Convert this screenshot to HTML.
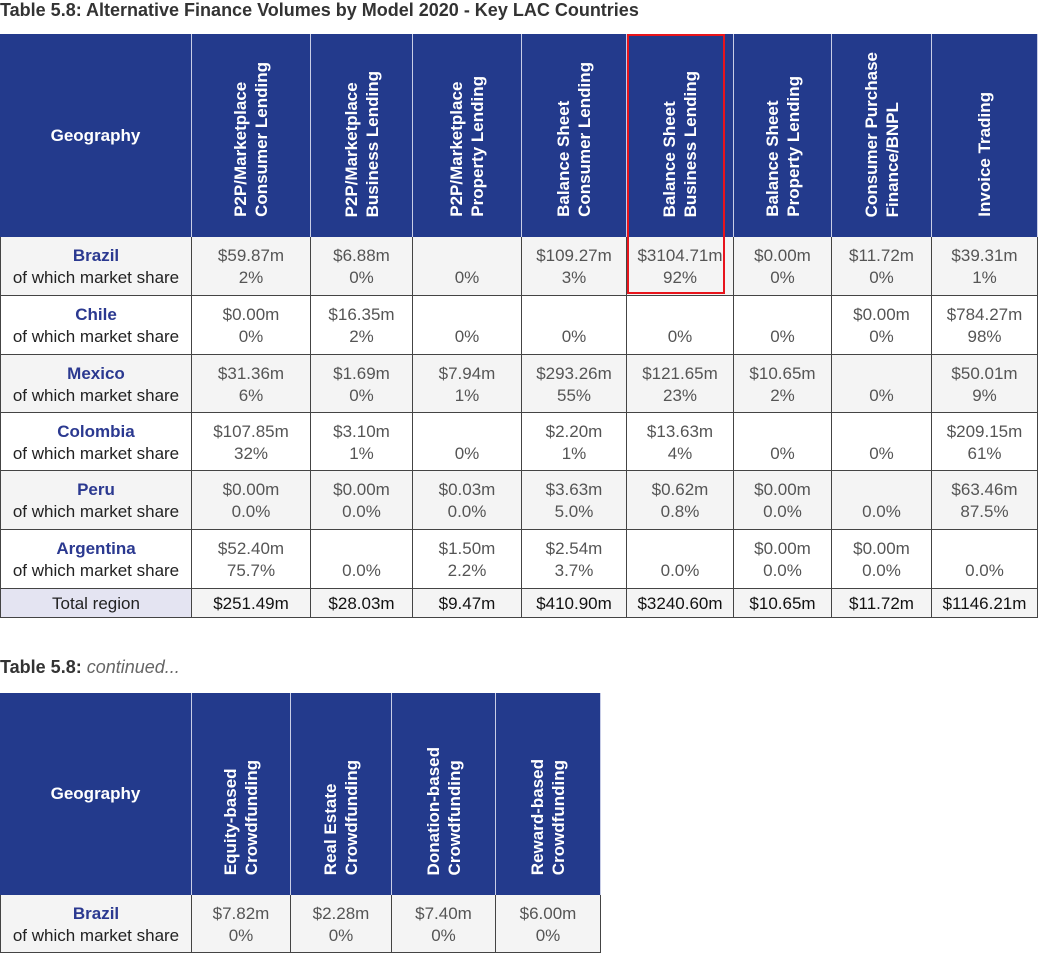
<!DOCTYPE html>
<html><head><meta charset="utf-8">
<style>
body{margin:0;width:1040px;height:954px;background:#fff;position:relative;overflow:hidden;font-family:"Liberation Sans",sans-serif;}
.t{position:absolute;left:0;font-size:18px;color:#333;white-space:nowrap;}
.t b{font-weight:bold;}
.c{position:absolute;box-sizing:border-box;border-right:1px solid #444;border-bottom:1px solid #444;text-align:center;font-size:17px;color:#555;}
.h{position:absolute;box-sizing:border-box;background:#233a8c;border-right:1px solid #c8cde6;color:#fff;font-weight:bold;font-size:17px;}
.hv{position:absolute;left:0;right:0;bottom:20px;display:flex;justify-content:center;}
.hv span{writing-mode:vertical-rl;transform:rotate(180deg);text-align:left;line-height:21px;}
.l1{position:absolute;left:0;right:0;top:8px;line-height:22px;}
.l2{position:absolute;left:0;right:0;top:30px;line-height:22px;}
.cn{color:#2b3990;font-weight:bold;}
.geo .l2{color:#222;}
</style></head><body>
<div class="t" style="top:0px"><b>Table 5.8: Alternative Finance Volumes by Model 2020 - Key LAC Countries</b></div>
<div class="t" style="top:657px"><b>Table 5.8:</b> <i style="color:#666">continued...</i></div>
<div id="root"></div>
<div style="position:absolute;left:627px;top:34px;width:98px;height:260px;border:2px solid #e8141c;box-sizing:border-box;"></div>
<script>
const colsA=[0,192,311,413,522,627,734,832,932,1038];
const headsA=["P2P/Marketplace<br>Consumer Lending","P2P/Marketplace<br>Business Lending","P2P/Marketplace<br>Property Lending","Balance Sheet<br>Consumer Lending","Balance Sheet<br>Business Lending","Balance Sheet<br>Property Lending","Consumer Purchase<br>Finance/BNPL","Invoice Trading"];
const countries=["Brazil","Chile","Mexico","Colombia","Peru","Argentina"];
const volumes=[
["$59.87m","$6.88m","","$109.27m","$3104.71m","$0.00m","$11.72m","$39.31m"],
["$0.00m","$16.35m","","","","","$0.00m","$784.27m"],
["$31.36m","$1.69m","$7.94m","$293.26m","$121.65m","$10.65m","","$50.01m"],
["$107.85m","$3.10m","","$2.20m","$13.63m","","","$209.15m"],
["$0.00m","$0.00m","$0.03m","$3.63m","$0.62m","$0.00m","","$63.46m"],
["$52.40m","","$1.50m","$2.54m","","$0.00m","$0.00m",""]];
const shares=[
["2%","0%","0%","3%","92%","0%","0%","1%"],
["0%","2%","0%","0%","0%","0%","0%","98%"],
["6%","0%","1%","55%","23%","2%","0%","9%"],
["32%","1%","0%","1%","4%","0%","0%","61%"],
["0.0%","0.0%","0.0%","5.0%","0.8%","0.0%","0.0%","87.5%"],
["75.7%","0.0%","2.2%","3.7%","0.0%","0.0%","0.0%","0.0%"]];
const totals=["$251.49m","$28.03m","$9.47m","$410.90m","$3240.60m","$10.65m","$11.72m","$1146.21m"];
const colsB=[0,192,291,392,496,601];
const headsB=["Equity-based<br>Crowdfunding","Real Estate<br>Crowdfunding","Donation-based<br>Crowdfunding","Reward-based<br>Crowdfunding"];
const volumesB=["$7.82m","$2.28m","$7.40m","$6.00m"];
const sharesB=["0%","0%","0%","0%"];
const rowTopsA=[237,296,355,413,471,530,589,618];
const root=document.getElementById('root');
function div(cls,x,y,w,h,html,bg){const d=document.createElement('div');d.className=cls;d.style.left=x+'px';d.style.top=y+'px';d.style.width=w+'px';d.style.height=h+'px';if(bg)d.style.background=bg;d.innerHTML=html;root.appendChild(d);return d;}
function table(cols,heads,top,hb,rows,vols,shs,tot,tabname){
  let g=div('h',cols[0],top,cols[1]-cols[0],hb-top,'<div style="position:absolute;top:50%;left:0;right:0;text-align:center;transform:translateY(-50%);font-size:17px">Geography</div>');
  
  
  for(let i=0;i<heads.length;i++){
    let h=div('h',cols[i+1],top,cols[i+2]-cols[i+1],hb-top,'<div class="hv"><span>'+heads[i]+'</span></div>');
    
    
  }
  for(let r=0;r<vols.length;r++){
    const y=rows[r],hh=rows[r+1]-rows[r],bg=r%2==0?'#f4f4f4':'#fff';
    let gc=div('c geo',0,y,cols[1],hh,'<div class="l1 cn">'+countries[r]+'</div><div class="l2">of which market share</div>',bg);
    gc.style.borderLeft='1px solid #444';
    
    
    for(let i=0;i<vols[r].length;i++){
      let c=div('c',cols[i+1],y,cols[i+2]-cols[i+1],hh,'<div class="l1">'+vols[r][i]+'</div><div class="l2">'+shs[r][i]+'</div>',bg);
      
      
    }
  }
  if(tot){
    const y=rows[vols.length],hh=rows[vols.length+1]-y;
    let tc=div('c',0,y,cols[1],hh,'<div style="line-height:'+hh+'px;color:#222">Total region</div>','#e4e4f2');
    tc.style.borderLeft='1px solid #444';
    
    
    for(let i=0;i<tot.length;i++){
      let c=div('c',cols[i+1],y,cols[i+2]-cols[i+1],hh,'<div style="line-height:'+hh+'px;color:#111;font-size:17px">'+tot[i]+'</div>','#f4f4f4');
      
      
    }
  }
}
table(colsA,headsA,34,237,rowTopsA,volumes,shares,totals,'main');
table(colsB,headsB,693,895,[895,953],[volumesB],[sharesB],null,'continued');
</script>
</body></html>
